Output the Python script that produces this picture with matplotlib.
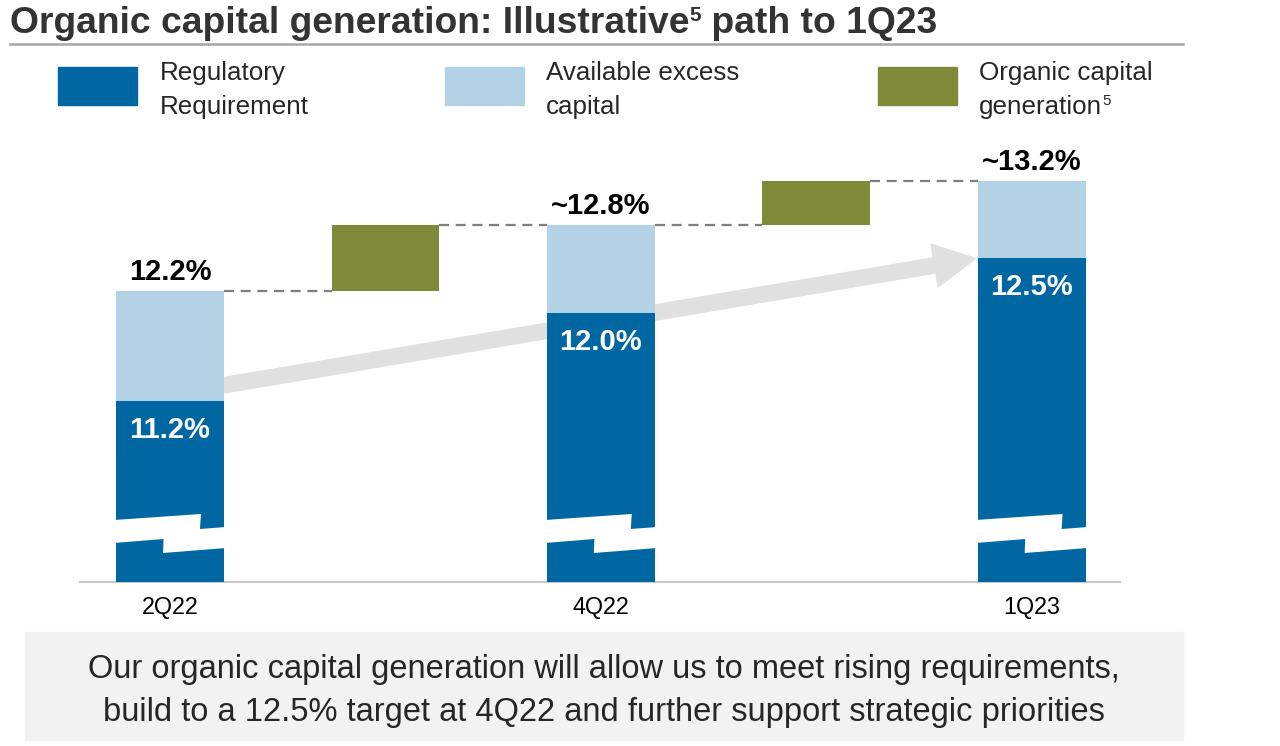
import numpy as np
import matplotlib
matplotlib.use('Agg')
import matplotlib.pyplot as plt
from matplotlib.patches import Rectangle, Polygon, FancyArrowPatch
from matplotlib.lines import Line2D
from matplotlib.transforms import blended_transform_factory

plt.rcParams['font.family'] = ['Liberation Sans', 'DejaVu Sans']

# data (values in % CET1)
periods = ['2Q22', '4Q22', '1Q23']
regulatory = [11.2, 12.0, 12.5]
total = [12.2, 12.8, 13.2]
total_labels = ['12.2%', '~12.8%', '~13.2%']
reg_labels = ['11.2%', '12.0%', '12.5%']
footer = ['Our organic capital generation will allow us to meet rising requirements,',
          'build to a 12.5% target at 4Q22 and further support strategic priorities']

DARK = '#0067a3'
LIGHT = '#b4d2e5'
GREEN = '#7f8a38'
TEXT = '#262626'

W, H = 1280, 746
fig = plt.figure(figsize=(12.8, 7.46), dpi=100)
renderer = fig.canvas.get_renderer()


def fx(px):
    return px / W


def fy(py):
    return 1 - py / H


def rich(x_px, y_px, pieces, **kw):
    # draw a line of text made of pieces (text, size, rise in px)
    x = x_px
    for s, size, rise in pieces:
        t = fig.text(fx(x), fy(y_px - rise), s, fontsize=size, va='baseline', ha='left', **kw)
        x += t.get_window_extent(renderer).width


# title + rule
rich(10, 33, [('Organic capital generation: Illustrative', 26.8, 0), ('5', 15, 12),
              (' path to 1Q23', 26.8, 0)], fontweight='bold', color='#333333')
fig.add_artist(Line2D([fx(10), fx(1183)], [fy(44), fy(44)], transform=fig.transFigure,
                      color='#a6a6a6', lw=1.8))

# legend
for x0, c in [(58, DARK), (445, LIGHT), (878, GREEN)]:
    fig.add_artist(Rectangle((fx(x0), fy(105)), fx(79), 38 / H, transform=fig.transFigure,
                             color=c))
fig.text(fx(160), fy(80), 'Regulatory', fontsize=18.7, color=TEXT, va='baseline')
fig.text(fx(160), fy(114), 'Requirement', fontsize=18.7, color=TEXT, va='baseline')
fig.text(fx(546), fy(80), 'Available excess', fontsize=18.7, color=TEXT, va='baseline')
fig.text(fx(546), fy(114), 'capital', fontsize=18.7, color=TEXT, va='baseline')
fig.text(fx(979), fy(80), 'Organic capital', fontsize=18.7, color=TEXT, va='baseline')
rich(979, 114, [('generation', 18.7, 0), ('5', 11, 9)], color=TEXT)

# chart
ax = fig.add_axes([fx(80), fy(582), fx(1120) - fx(80), fy(140) - fy(582)])
ax.set_xlim(-0.418, 4.41)
ax.set_ylim(9.545, 13.578)

stack_x = np.array([0, 2, 4])
organic_x = np.array([1, 3])
width = 0.5
reg = np.array(regulatory)
tot = np.array(total)

ax.bar(stack_x, reg, width, color=DARK, zorder=3)
ax.bar(stack_x, tot - reg, width, bottom=reg, color=LIGHT, zorder=3)
ax.bar(organic_x, tot[1:] - tot[:-1], width, bottom=tot[:-1], color=GREEN, zorder=3)

# dashed connectors
for i, gx in enumerate(organic_x):
    ax.plot([stack_x[i] + width / 2, gx - width / 2], [tot[i], tot[i]],
            color='#7f7f7f', lw=1.6, dashes=(4.5, 3), zorder=2)
    ax.plot([gx + width / 2, stack_x[i + 1] - width / 2], [tot[i + 1], tot[i + 1]],
            color='#7f7f7f', lw=1.6, dashes=(4.5, 3), zorder=2)

# grey trend arrow behind the bars
arrow = FancyArrowPatch((stack_x[0] + width / 2, reg[0] + 0.14), (stack_x[2] - width / 2, reg[2]),
                        arrowstyle='simple,head_length=30,head_width=31,tail_width=11',
                        mutation_scale=1, color='#e0e0e0', shrinkA=0, shrinkB=1.5, zorder=2)
ax.add_patch(arrow)

# axis-break marks on the stacked bars
trans = blended_transform_factory(ax.transData, ax.transAxes)
brk = [(-0.02, 520), (0.787, 514), (0.778, 529), (1.02, 527), (1.02, 548),
       (0.435, 553), (0.44, 539), (-0.02, 543)]
for x in stack_x:
    pts = [(x - width / 2 + r * width, (582 - py) / 442) for r, py in brk]
    ax.add_patch(Polygon(pts, closed=True, transform=trans, color='white', lw=0, zorder=4))

for x, t, lab in zip(stack_x, tot, total_labels):
    ax.annotate(lab, (x, t), xytext=(0, 14), textcoords='offset points', ha='center',
                va='center', fontsize=21, fontweight='bold', color='black', zorder=5)
for x, r, lab in zip(stack_x, reg, reg_labels):
    ax.annotate(lab, (x, r), xytext=(0, -21), textcoords='offset points', ha='center',
                va='center', fontsize=21, fontweight='bold', color='white', zorder=5)

for s in ['top', 'left', 'right']:
    ax.spines[s].set_visible(False)
ax.spines['bottom'].set_color('#c9c9c9')
ax.spines['bottom'].set_linewidth(1.5)
ax.set_yticks([])
ax.set_xticks(stack_x, periods, fontsize=16.8)
ax.tick_params(length=0, pad=10)

# footer box
fig.add_artist(Rectangle((fx(25), fy(740)), fx(1158), 108 / H, transform=fig.transFigure,
                         color='#f2f2f2', zorder=0))
fig.text(fx(604), fy(678), footer[0], ha='center', va='baseline', fontsize=23.5, color=TEXT)
fig.text(fx(604), fy(721), footer[1], ha='center', va='baseline', fontsize=23.5, color=TEXT)

fig.savefig('out.png', dpi=100)
